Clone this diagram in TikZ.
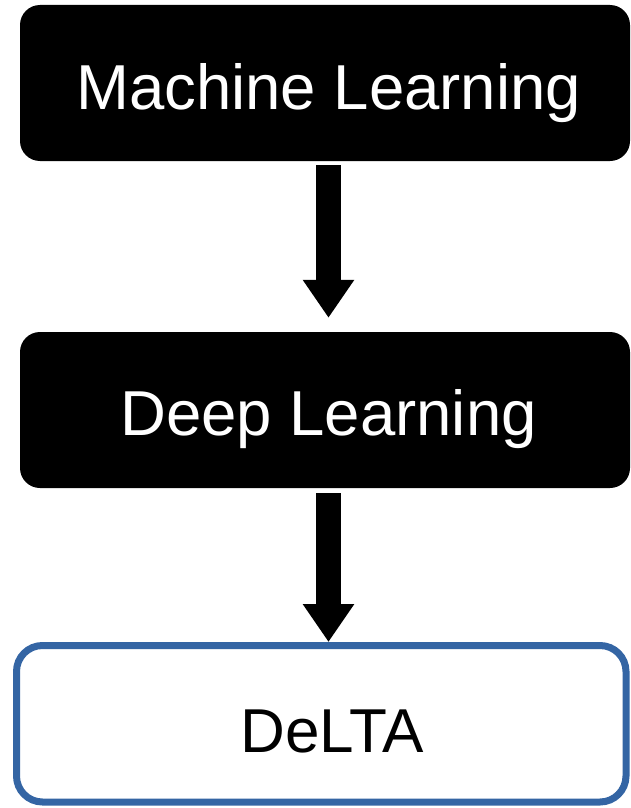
\documentclass[tikz,border=0pt]{standalone}
\usepackage{fontspec}
\setmainfont{Liberation Sans}
\usetikzlibrary{arrows.meta}
\definecolor{boxblue}{HTML}{3465A4}
\begin{document}
\begin{tikzpicture}[x=1pt,y=-1pt,
  darkbox/.style={fill=black, rounded corners=20pt, minimum width=610pt, minimum height=156pt, inner sep=0pt},
  outlinebox/.style={draw=boxblue, line width=7pt, fill=white, rounded corners=26pt, minimum width=609.5pt, minimum height=156.5pt, inner sep=0pt},
  label/.style={inner sep=0pt, anchor=base west},
  blockarrow/.style={line width=25pt, -{Triangle[width=49pt,length=38pt]}}
]
\useasboundingbox (0,0) rectangle (630,808);

% boxes
\node[darkbox] (ml) at (325,83) {};
\node[darkbox] (dl) at (325,410) {};
\node[outlinebox] (delta) at (321.25,723.75) {};

% labels
\node[label, text=white, font=\fontsize{63.5}{63.5}\selectfont] (mltext) at (76,109.3) {Machine Learning};
\node[label, text=white, font=\fontsize{63.5}{63.5}\selectfont] (dltext) at (120,435) {Deep Learning};
\node[label, text=black, font=\fontsize{62}{62}\selectfont] (deltatext) at (240.1,752.7) {DeLTA};

% connectors
\draw[blockarrow, shorten <=4pt, shorten >=14pt] ([xshift=3.5pt]ml.south) -- ([xshift=3.5pt]dl.north);
\draw[blockarrow, shorten <=5pt] ([xshift=3.5pt]dl.south) -- ([xshift=7.25pt]delta.north);
\end{tikzpicture}
\end{document}
